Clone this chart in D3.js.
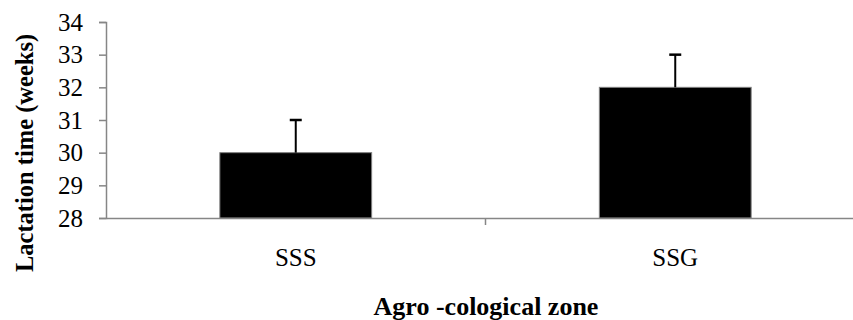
<!DOCTYPE html>
<html>
<head>
<meta charset="utf-8">
<script src="https://cdn.jsdelivr.net/npm/d3@7"></script>
<style>
  body { margin: 0; background: #fff; }
  svg { display: block; }
  text { font-family: "Liberation Serif", "Times New Roman", serif; }
</style>
</head>
<body>
<svg id="chart" width="853" height="320"></svg>
<script>
const zones = ['SSS', 'SSG'];
const lactation = [30, 32];
const errors = [1, 1];
const yTicks = [28, 29, 30, 31, 32, 33, 34];

const svg = d3.select('#chart');
const axisColor = '#868686';
const font = '"Liberation Serif", "Times New Roman", serif';

const x = d3.scaleBand().domain(zones).range([106, 865]);
const y = d3.scaleLinear().domain([28, 34]).range([218, 22]);
const barW = x.bandwidth() * 0.4;

// y axis
const yAxis = svg.append('g')
  .attr('transform', 'translate(106,0)')
  .call(d3.axisLeft(y).tickValues(yTicks).tickFormat(d3.format('d')).tickSize(7).tickPadding(16))
  .attr('font-family', font)
  .attr('font-size', 25);
yAxis.select('.domain').attr('stroke', axisColor).attr('stroke-width', 1.5);
yAxis.selectAll('.tick line').attr('stroke', axisColor).attr('stroke-width', 1.5);
yAxis.selectAll('.tick text').attr('fill', '#000');

// bars
svg.selectAll('rect.bar')
  .data(zones)
  .enter()
  .append('rect')
  .attr('class', 'bar')
  .attr('x', d => x(d) + (x.bandwidth() - barW) / 2)
  .attr('y', (d, i) => y(lactation[i]))
  .attr('width', barW)
  .attr('height', (d, i) => y(28) - y(lactation[i]))
  .attr('fill', '#000')
  .attr('stroke', '#7f7f7f')
  .attr('stroke-width', 1);

// error bars
const err = svg.selectAll('g.err')
  .data(zones)
  .enter()
  .append('g')
  .attr('class', 'err');
err.append('line')
  .attr('x1', d => x(d) + x.bandwidth() / 2)
  .attr('x2', d => x(d) + x.bandwidth() / 2)
  .attr('y1', (d, i) => y(lactation[i]))
  .attr('y2', (d, i) => y(lactation[i] + errors[i]))
  .attr('stroke', '#000')
  .attr('stroke-width', 2);
err.append('line')
  .attr('x1', d => x(d) + x.bandwidth() / 2 - 6)
  .attr('x2', d => x(d) + x.bandwidth() / 2 + 6)
  .attr('y1', (d, i) => y(lactation[i] + errors[i]))
  .attr('y2', (d, i) => y(lactation[i] + errors[i]))
  .attr('stroke', '#000')
  .attr('stroke-width', 2.5);

// x axis
const xAxis = svg.append('g')
  .attr('transform', 'translate(0,218)')
  .call(d3.axisBottom(x).tickSize(0).tickPadding(30))
  .attr('font-family', font)
  .attr('font-size', 25);
xAxis.select('.domain').attr('stroke', axisColor).attr('stroke-width', 1.5);
xAxis.selectAll('.tick text').attr('fill', '#000');
// category divider ticks
svg.selectAll('line.xdiv')
  .data(zones.slice(1))
  .enter()
  .append('line')
  .attr('class', 'xdiv')
  .attr('x1', d => x(d))
  .attr('x2', d => x(d))
  .attr('y1', 218)
  .attr('y2', 225)
  .attr('stroke', axisColor)
  .attr('stroke-width', 1.5);

// axis titles
svg.append('text')
  .attr('x', 486)
  .attr('y', 315)
  .attr('text-anchor', 'middle')
  .style('font-size', '26px')
  .style('font-weight', 'bold')
  .text('Agro -cological zone');

svg.append('text')
  .attr('transform', 'translate(33,153) rotate(-90)')
  .attr('text-anchor', 'middle')
  .style('font-size', '24.5px')
  .style('font-weight', 'bold')
  .text('Lactation time (weeks)');
</script>
</body>
</html>
